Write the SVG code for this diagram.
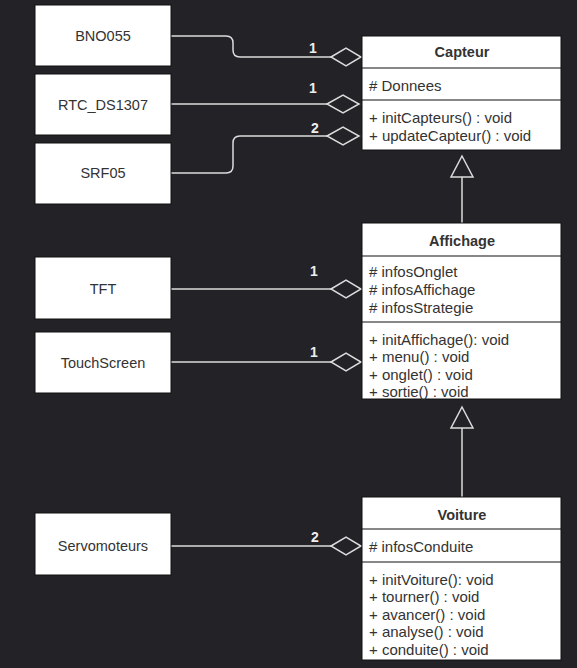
<svg xmlns="http://www.w3.org/2000/svg" width="577" height="668" viewBox="0 0 577 668">
<style>
.bg{fill:#232227}
.box{fill:#ffffff;stroke:#111;stroke-width:1}
.cls{fill:#ffffff;stroke:#111;stroke-width:1}
.sep{stroke:#111;stroke-width:1.2}
.t{font-family:"Liberation Sans",Arial,sans-serif;font-size:14.5px;fill:#333}
.m{font-size:15px}
.c{text-anchor:middle}
.b{font-weight:bold}
.conn{fill:none;stroke:#dcdcdc;stroke-width:1.5}
.dia{fill:none;stroke:#dcdcdc;stroke-width:1.5}
.tri{fill:none;stroke:#dcdcdc;stroke-width:1.5}
.lbl{font-family:"Liberation Sans",Arial,sans-serif;font-size:14px;font-weight:bold;fill:#eeeeee}
</style>
<rect class="bg" x="0" y="0" width="577" height="668"/>

<g id="connectors">
  <path class="conn" d="M171,36 H226 Q233,36 233,43 V50 Q233,57 240,57 H331"/>
  <path class="dia" d="M331,57 L346,48 L361,57 L346,66 Z"/>
  <text class="lbl" x="313" y="53" text-anchor="middle">1</text>

  <path class="conn" d="M171,104 H327"/>
  <path class="dia" d="M327,104 L343,95 L359,104 L343,113 Z"/>
  <text class="lbl" x="313" y="93" text-anchor="middle">1</text>

  <path class="conn" d="M171,173 H226 Q233,173 233,166 V143 Q233,136 240,136 H327"/>
  <path class="dia" d="M327,136 L343,127 L359,136 L343,145 Z"/>
  <text class="lbl" x="315" y="133" text-anchor="middle">2</text>

  <path class="conn" d="M171,289 H331"/>
  <path class="dia" d="M331,289 L346,280 L361,289 L346,298 Z"/>
  <text class="lbl" x="314" y="276" text-anchor="middle">1</text>

  <path class="conn" d="M171,362 H331"/>
  <path class="dia" d="M331,362 L346,353 L361,362 L346,371 Z"/>
  <text class="lbl" x="314" y="357" text-anchor="middle">1</text>

  <path class="conn" d="M171,546 H331"/>
  <path class="dia" d="M331,546 L346,537 L361,546 L346,555 Z"/>
  <text class="lbl" x="315" y="542" text-anchor="middle">2</text>

  <path class="conn" d="M462,177 V223"/>
  <path class="tri" d="M462,156 L473,177 L451,177 Z"/>
  <path class="conn" d="M462,428 V497"/>
  <path class="tri" d="M462,407 L473,428 L451,428 Z"/>
</g>

<g id="BNO055">
  <rect class="box" x="35" y="5" width="136" height="61"/>
  <text class="t c" x="103" y="41">BNO055</text>
</g>
<g id="RTC_DS1307">
  <rect class="box" x="35" y="74" width="136" height="61"/>
  <text class="t c" x="103" y="110">RTC_DS1307</text>
</g>
<g id="SRF05">
  <rect class="box" x="35" y="143" width="136" height="61"/>
  <text class="t c" x="103" y="178">SRF05</text>
</g>
<g id="TFT">
  <rect class="box" x="35" y="257" width="136" height="62"/>
  <text class="t c" x="103" y="294">TFT</text>
</g>
<g id="TouchScreen">
  <rect class="box" x="35" y="332" width="136" height="61"/>
  <text class="t c" x="103" y="368">TouchScreen</text>
</g>
<g id="Servomoteurs">
  <rect class="box" x="35" y="513" width="136" height="62"/>
  <text class="t c" x="103" y="551">Servomoteurs</text>
</g>

<g id="Capteur">
  <rect class="cls" x="362" y="36" width="199" height="114"/>
  <line class="sep" x1="362" y1="68" x2="561" y2="68"/>
  <line class="sep" x1="362" y1="100" x2="561" y2="100"/>
  <text class="t c b" x="462" y="57">Capteur</text>
  <text class="t m" x="369" y="91"># Donnees</text>
  <text class="t m" x="369" y="123">+ initCapteurs() : void</text>
  <text class="t m" x="369" y="141">+ updateCapteur() : void</text>
</g>

<g id="Affichage">
  <rect class="cls" x="362" y="223" width="199" height="176"/>
  <line class="sep" x1="362" y1="256" x2="561" y2="256"/>
  <line class="sep" x1="362" y1="322" x2="561" y2="322"/>
  <text class="t c b" x="462" y="246">Affichage</text>
  <text class="t m" x="369" y="277"># infosOnglet</text>
  <text class="t m" x="369" y="295"># infosAffichage</text>
  <text class="t m" x="369" y="313"># infosStrategie</text>
  <text class="t m" x="369" y="345">+ initAffichage(): void</text>
  <text class="t m" x="369" y="362">+ menu() : void</text>
  <text class="t m" x="369" y="380">+ onglet() : void</text>
  <text class="t m" x="369" y="397">+ sortie() : void</text>
</g>

<g id="Voiture">
  <rect class="cls" x="362" y="497" width="199" height="163"/>
  <line class="sep" x1="362" y1="529" x2="561" y2="529"/>
  <line class="sep" x1="362" y1="562" x2="561" y2="562"/>
  <text class="t c b" x="462" y="520">Voiture</text>
  <text class="t m" x="369" y="552"># infosConduite</text>
  <text class="t m" x="369" y="585">+ initVoiture(): void</text>
  <text class="t m" x="369" y="602">+ tourner() : void</text>
  <text class="t m" x="369" y="620">+ avancer() : void</text>
  <text class="t m" x="369" y="637">+ analyse() : void</text>
  <text class="t m" x="369" y="655">+ conduite() : void</text>
</g>
</svg>
